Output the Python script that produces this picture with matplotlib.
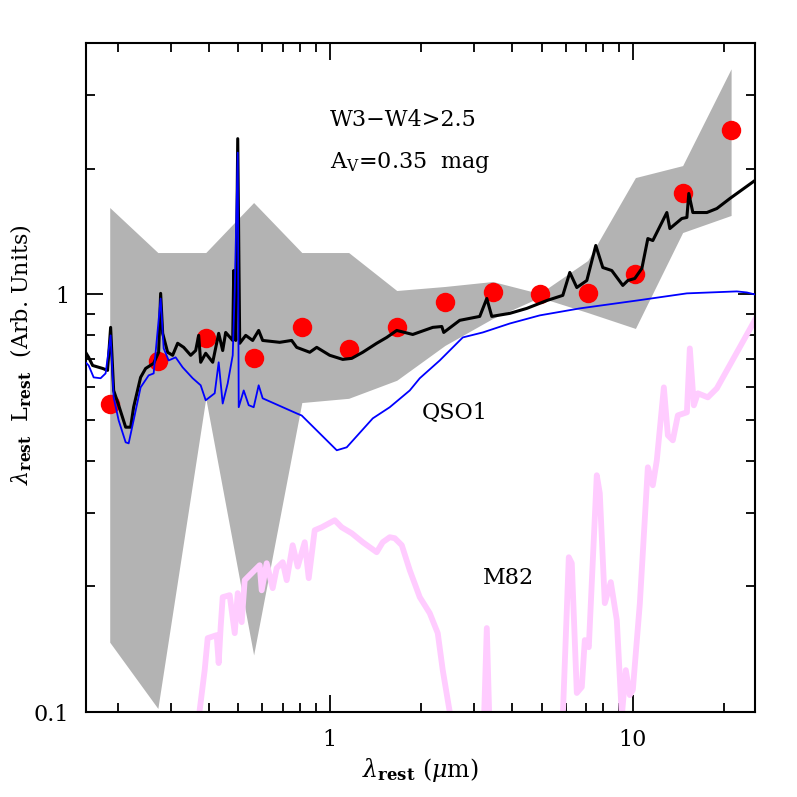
"""
Rest-frame SED of the W3-W4>2.5 subsample vs. QSO1 and M82 templates.
Writes out.png
"""

import matplotlib

matplotlib.use("Agg")
import matplotlib.pyplot as plt
from matplotlib.ticker import FixedLocator, FuncFormatter, NullFormatter

# photometric points (rest wavelength in micron, lambda L_lambda)
pt_wave = [0.188, 0.271, 0.390, 0.561, 0.809, 1.155, 1.664, 2.40, 3.45, 4.93, 7.10, 10.2, 14.6, 21.1]
pt_flux = [0.548, 0.691, 0.785, 0.703, 0.838, 0.739, 0.834, 0.957, 1.011, 1.005, 1.01, 1.12, 1.75, 2.48]

# scatter envelope of the sample
band_hi = [1.615, 1.26, 1.26, 1.66, 1.26, 1.26, 1.022, 1.045, 1.074, 1.005, 1.206, 1.905, 2.035, 3.47]
band_lo = [0.147, 0.102, 0.564, 0.137, 0.551, 0.564, 0.623, 0.755, 0.876, 0.984, 0.905, 0.829, 1.407, 1.546]

# best-fit model (QSO1 + M82, reddened)
fit_wave = [0.1565, 0.1602, 0.1651, 0.1781, 0.1850, 0.1893, 0.1937, 0.2012, 0.2122, 0.2204,
            0.2254, 0.2377, 0.2470, 0.2625, 0.2726, 0.2768, 0.2811, 0.2919, 0.3032, 0.3150,
            0.3298, 0.3478, 0.3612, 0.3695, 0.3752, 0.3898, 0.4111, 0.4302, 0.4435, 0.4537,
            0.4786, 0.4823, 0.4897, 0.4972, 0.5047, 0.5283, 0.5569, 0.5829, 0.6009, 0.6839,
            0.7490, 0.7780, 0.8592, 0.9060, 1.0, 1.104, 1.182, 1.285, 1.429, 1.542,
            1.664, 1.879, 2.188, 2.343, 2.378, 2.685, 3.126, 3.298, 3.425, 3.928,
            4.469, 5.203, 5.875, 6.196, 6.535, 7.051, 7.548, 7.961, 8.522, 9.268,
            9.627, 10.15, 10.71, 11.21, 11.64, 12.95, 13.25, 14.51, 15.08, 15.30,
            15.78, 17.55, 18.93, 20.90, 25.27]
fit_flux = [0.727, 0.707, 0.676, 0.665, 0.658, 0.834, 0.589, 0.543, 0.481, 0.481,
            0.537, 0.633, 0.665, 0.684, 0.727, 1.006, 0.807, 0.727, 0.715, 0.764,
            0.747, 0.715, 0.734, 0.798, 0.688, 0.723, 0.688, 0.807, 0.734, 0.811,
            0.776, 1.141, 0.776, 2.361, 0.764, 0.798, 0.776, 0.820, 0.776, 0.768,
            0.776, 0.747, 0.727, 0.747, 0.715, 0.699, 0.703, 0.727, 0.764, 0.789,
            0.820, 0.802, 0.834, 0.838, 0.811, 0.867, 0.886, 0.978, 0.886, 0.901,
            0.926, 0.967, 0.995, 1.129, 1.039, 1.080, 1.310, 1.160, 1.141, 1.051,
            1.080, 1.092, 1.154, 1.361, 1.346, 1.571, 1.438, 1.520, 1.529, 1.745,
            1.571, 1.571, 1.606, 1.697, 1.874]

# QSO1 template
qso_wave = [0.1565, 0.1602, 0.1664, 0.1754, 0.1822, 0.1893, 0.1937, 0.2012, 0.2122, 0.2171,
            0.2254, 0.2377, 0.2527, 0.2625, 0.2768, 0.2832, 0.2942, 0.3102, 0.3272, 0.3531,
            0.3752, 0.3898, 0.4174, 0.4302, 0.4435, 0.4606, 0.4786, 0.4860, 0.4972, 0.5009,
            0.5203, 0.5404, 0.5613, 0.5829, 0.6009, 0.7780, 0.8083, 1.055, 1.138, 1.387,
            1.578, 1.837, 1.982, 2.307, 2.748, 3.199, 3.928, 4.932, 6.685, 10.31,
            15.08, 22.04, 23.78, 25.27]
qso_flux = [0.688, 0.676, 0.633, 0.630, 0.647, 0.798, 0.567, 0.4995, 0.4425, 0.440,
            0.4995, 0.599, 0.640, 0.647, 0.978, 0.743, 0.695, 0.707, 0.669, 0.630,
            0.606, 0.558, 0.580, 0.688, 0.548, 0.612, 0.715, 1.022, 2.186, 0.537,
            0.589, 0.543, 0.537, 0.606, 0.564, 0.519, 0.513, 0.4235, 0.4305, 0.505,
            0.537, 0.589, 0.630, 0.695, 0.789, 0.811, 0.852, 0.891, 0.926, 0.967,
            1.006, 1.017, 1.011, 1.0]

# M82 template (drops below the plotted range in places)
m82_wave = [0.370, 0.3724, 0.3868, 0.3957, 0.4237, 0.4302, 0.4368, 0.4435, 0.4677, 0.4860,
            0.4972, 0.5124, 0.5242, 0.5655, 0.5875, 0.5965, 0.6195, 0.6484, 0.6684, 0.6997,
            0.7213, 0.7546, 0.7842, 0.8270, 0.8527, 0.8922, 0.9410, 1.039, 1.095, 1.182,
            1.285, 1.429, 1.496, 1.578, 1.639, 1.729, 1.837, 1.982, 2.138, 2.272,
            2.360, 2.489, 2.55, 3.22, 3.298, 3.37, 5.85, 6.149, 6.290, 6.535,
            6.787, 6.944, 7.158, 7.605, 7.781, 8.083, 8.460, 8.855, 9.199, 9.482,
            9.774, 10.0, 10.55, 11.21, 11.64, 12.00, 12.66, 13.05, 13.55, 14.08,
            15.08, 15.42, 15.90, 16.39, 17.68, 18.93, 25.46]
m82_flux = [0.095, 0.1011, 0.1260, 0.1503, 0.1528, 0.131, 0.160, 0.1884, 0.1905, 0.1545,
            0.1926, 0.1642, 0.2069, 0.2186, 0.2247, 0.1957, 0.2272, 0.1980, 0.2211, 0.2285,
            0.2069, 0.2509, 0.223, 0.2551, 0.2092, 0.2725, 0.2770, 0.2879, 0.2770, 0.2680,
            0.2551, 0.2414, 0.2551, 0.2622, 0.2608, 0.2509, 0.2186, 0.1884, 0.1725, 0.1545,
            0.1260, 0.1, 0.09, 0.09, 0.1589, 0.09, 0.09, 0.2348, 0.2272, 0.1111,
            0.1148, 0.1487, 0.1430, 0.3690, 0.3341, 0.1823, 0.2047, 0.1660, 0.098, 0.1260,
            0.1098, 0.1129, 0.1823, 0.3856, 0.3492, 0.4008, 0.5990, 0.4600, 0.4474, 0.5134,
            0.5221, 0.7426, 0.5426, 0.5798, 0.5670, 0.5957, 0.8761]


def main():
    plt.rcParams["font.family"] = ["DejaVu Serif"]
    plt.rcParams["mathtext.fontset"] = "dejavuserif"

    fig = plt.figure(figsize=(7.97, 7.97), dpi=100)
    ax = fig.add_axes([0.1079, 0.1066, 0.8394, 0.8394])

    ax.fill_between(pt_wave, band_lo, band_hi, color="#b3b3b3", lw=0, zorder=1)
    ax.plot(m82_wave, m82_flux, color="#ffccff", lw=4.2, zorder=2, solid_joinstyle="round")
    ax.plot(pt_wave, pt_flux, "o", color="red", ms=14, mec="none", zorder=3)
    ax.plot(fit_wave, fit_flux, color="black", lw=2.2, zorder=4)
    ax.plot(qso_wave, qso_flux, color="blue", lw=1.3, zorder=5)

    ax.set_xscale("log")
    ax.set_yscale("log")
    ax.set_xlim(0.157, 25.3)
    ax.set_ylim(0.1, 4.0)

    fmt = FuncFormatter(lambda v, p: f"{v:g}")
    ax.xaxis.set_major_locator(FixedLocator([1, 10]))
    ax.xaxis.set_minor_locator(FixedLocator([0.2, 0.3, 0.4, 0.5, 0.6, 0.7, 0.8, 0.9,
                                             2, 3, 4, 5, 6, 7, 8, 9, 20]))
    ax.yaxis.set_major_locator(FixedLocator([0.1, 1]))
    ax.yaxis.set_minor_locator(FixedLocator([0.2, 0.3, 0.4, 0.5, 0.6, 0.7, 0.8, 0.9, 2, 3]))
    ax.xaxis.set_major_formatter(fmt)
    ax.yaxis.set_major_formatter(fmt)
    ax.xaxis.set_minor_formatter(NullFormatter())
    ax.yaxis.set_minor_formatter(NullFormatter())

    ax.tick_params(which="both", direction="in", top=True, right=True, labelsize=16)
    ax.tick_params(which="major", length=12, width=1.3, pad=12)
    ax.tick_params(which="minor", length=6.5, width=1.3)
    for sp in ax.spines.values():
        sp.set_linewidth(1.5)

    ax.set_xlabel(r"$\lambda_\mathbf{rest}$ ($\mu$m)", fontsize=17)
    ax.set_ylabel(r"$\lambda_\mathbf{rest}$  $\mathrm{L}_\mathbf{rest}$  (Arb. Units)", fontsize=16)
    ax.xaxis.set_label_coords(0.5, -0.065)
    ax.yaxis.set_label_coords(-0.078, 0.535)

    ax.text(0.365, 0.885, "W3\u2212W4>2.5", transform=ax.transAxes, fontsize=16, va="center")
    ax.text(0.365, 0.822, r"A$_\mathrm{V}$=0.35  mag", transform=ax.transAxes, fontsize=16, va="center")
    ax.text(0.502, 0.447, "QSO1", transform=ax.transAxes, fontsize=16, va="center")
    ax.text(0.593, 0.200, "M82", transform=ax.transAxes, fontsize=16, va="center")

    fig.savefig("out.png", dpi=100)


if __name__ == "__main__":
    main()
